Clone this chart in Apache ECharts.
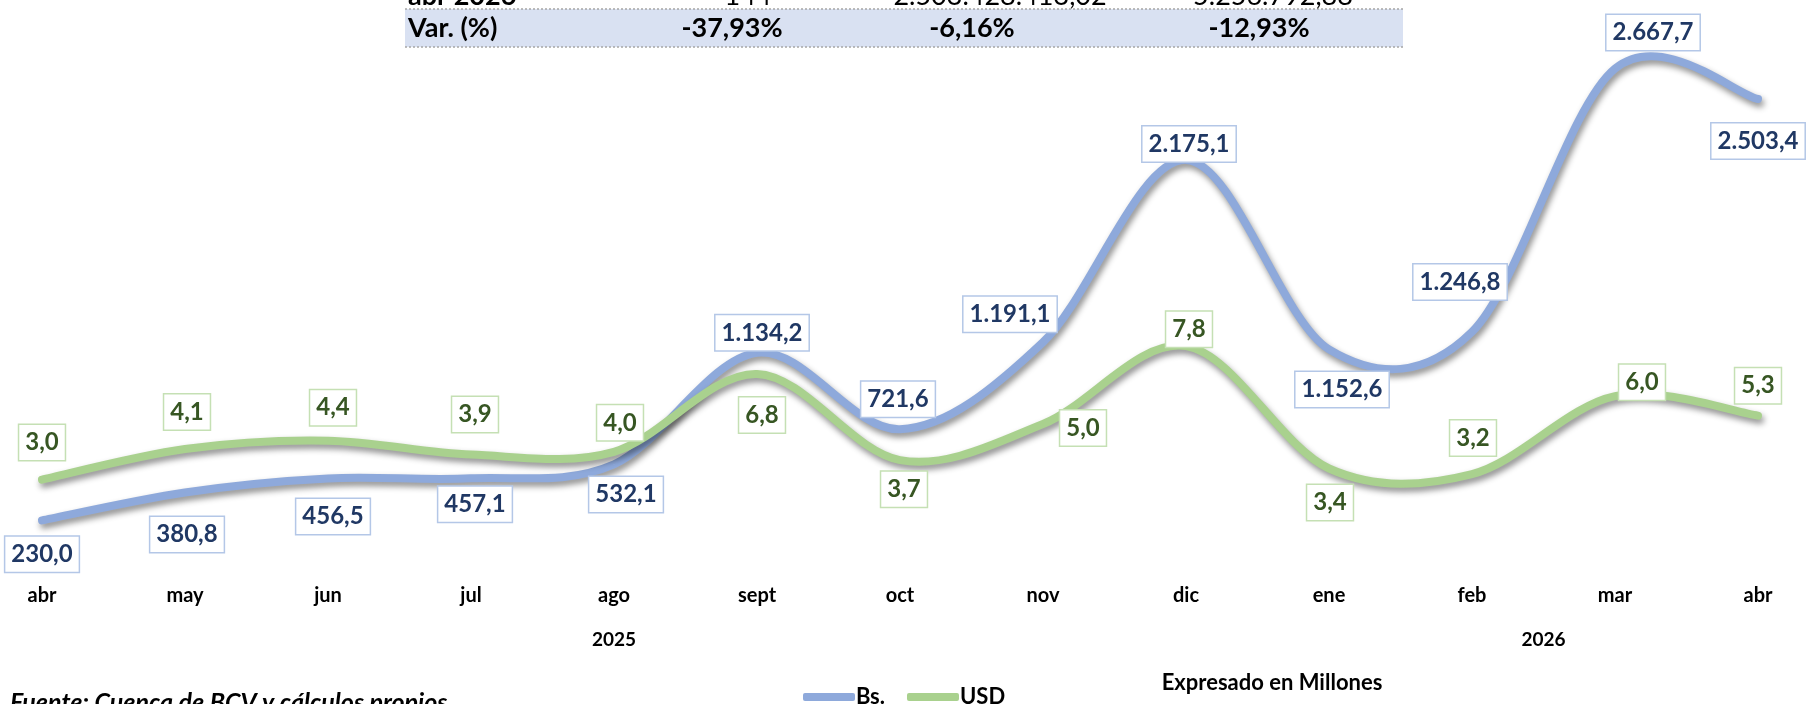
<!DOCTYPE html>
<html>
<head>
<meta charset="utf-8">
<script src="https://cdn.jsdelivr.net/npm/echarts@6/dist/echarts.min.js"></script>
<style>
  html, body { margin: 0; padding: 0; background: #fff; }
  #chart { width: 1814px; height: 704px; }
</style>
</head>
<body>
<div id="chart"></div>
<script>
// datos
var meses = ['abr', 'may', 'jun', 'jul', 'ago', 'sept', 'oct', 'nov', 'dic', 'ene', 'feb', 'mar', 'abr'];
var anios = ['2025', '2026'];
var bsValores = [230.0, 380.8, 456.5, 457.1, 532.1, 1134.2, 721.6, 1191.1, 2175.1, 1152.6, 1246.8, 2667.7, 2503.4];
var usdValores = [3.0, 4.1, 4.4, 3.9, 4.0, 6.8, 3.7, 5.0, 7.8, 3.4, 3.2, 6.0, 5.3];
var filaAnterior = ['abr 2026', '144', '2.503.428.413,02', '5.256.792,88'];
var filaVar = ['Var. (%)', '-37,93%', '-6,16%', '-12,93%'];

// desplazamiento de las etiquetas (px) respecto al punto
var bsOffset = [[0, 34], [2, 42], [5, 38], [4, 26], [12, 30], [5, -20], [-2, -30], [-33, -28], [3, -16], [13, 40], [-12, -50], [38, -36], [0, 42]];
var usdOffset = [[0, -37], [2, -37], [5, -33], [4, -40], [6, -29], [5, 41], [4, 29], [40, 4], [3, -17], [1, 34], [1, -36], [27, -14], [0, -30]];

function formato(v) {
    var p = v.toFixed(1).split('.');
    var ent = p[0].replace(/\B(?=(\d{3})+(?!\d))/g, '.');
    return ent + ',' + p[1];
}

var myChart = echarts.init(document.getElementById('chart'));
var fuente = 'Lato';
var azul = '#8EA9DB', verde = '#A9D18E';

var etiqueta = function (color, borde) {
    return {
        show: true,
        position: 'inside',
        formatter: function (p) { return formato(p.value); },
        color: color,
        fontFamily: fuente,
        fontWeight: 'bold',
        fontSize: 24,
        lineHeight: 26,
        backgroundColor: '#fff',
        borderColor: borde,
        borderWidth: 1.5,
        padding: [5, 6, 4, 6]
    };
};

// curva suavizada tipo Excel (Catmull-Rom) usando las escalas del grafico
var curva = function (valores, color) {
    return function (params, api) {
        if (params.dataIndex !== 0) return;
        var p = valores.map(function (v, i) { return api.coord([i, v]); });
        var n = p.length;
        var d = 'M' + p[0][0] + ' ' + p[0][1];
        for (var i = 0; i < n - 1; i++) {
            var a = p[Math.max(i - 1, 0)], b = p[i], c = p[i + 1], e = p[Math.min(i + 2, n - 1)];
            var c1 = [b[0] + (c[0] - a[0]) / 6, b[1] + (c[1] - a[1]) / 6];
            var c2 = [c[0] - (e[0] - b[0]) / 6, c[1] - (e[1] - b[1]) / 6];
            d += ' C' + c1[0] + ' ' + c1[1] + ' ' + c2[0] + ' ' + c2[1] + ' ' + c[0] + ' ' + c[1];
        }
        return {
            type: 'path',
            shape: { pathData: d },
            style: {
                fill: 'none', stroke: color, lineWidth: 8, lineCap: 'round', lineJoin: 'round',
                shadowColor: 'rgba(0,0,0,0.45)', shadowBlur: 6, shadowOffsetX: 2, shadowOffsetY: 4
            }
        };
    };
};

var celdas = [];
var colX = [408, 748, 1000, 1273];
filaAnterior.forEach(function (t, i) {
    celdas.push({
        type: 'text', x: colX[i], y: 10,
        style: { text: t, fontFamily: fuente, fontSize: 27, fontWeight: i == 0 ? 'bold' : 'normal', fill: '#000',
                 align: i == 0 ? 'left' : 'center', verticalAlign: 'bottom' }
    });
});
var colX2 = [408, 732, 972, 1259];
filaVar.forEach(function (t, i) {
    celdas.push({
        type: 'text', x: colX2[i], y: 28,
        style: { text: t, fontFamily: fuente, fontSize: 27, fontWeight: 'bold', fill: '#000',
                 align: i == 0 ? 'left' : 'center', verticalAlign: 'middle' }
    });
});

option = {
    animation: false,
    backgroundColor: '#fff',
    grid: { left: 42, right: 56, top: 7, bottom: 141 },
    legend: {
        data: [{ name: 'Bs.', itemStyle: { color: azul } }, { name: 'USD', itemStyle: { color: verde } }],
        left: 798,
        top: 681,
        icon: 'roundRect',
        itemWidth: 52,
        itemHeight: 8,
        itemGap: 22,
        textStyle: { fontFamily: fuente, fontSize: 22, fontWeight: 'bold', color: '#000', padding: [0, 0, 0, -4] }
    },
    xAxis: [
        {
            type: 'category',
            boundaryGap: false,
            data: meses,
            axisLine: { show: false },
            axisTick: { show: false },
            axisLabel: { margin: 23, fontFamily: fuente, fontSize: 20, fontWeight: 'bold', color: '#000', interval: 0 }
        },
        {
            type: 'value',
            position: 'bottom',
            min: 0,
            max: 12,
            interval: 0.5,
            axisLine: { show: false },
            axisTick: { show: false },
            splitLine: { show: false },
            axisLabel: {
                margin: 67,
                fontFamily: fuente, fontSize: 19, fontWeight: 'bold', color: '#000',
                formatter: function (v) {
                    if (v == 4) return anios[0];
                    if (v == 10.5) return anios[1];
                    return '';
                }
            }
        }
    ],
    yAxis: [
        { type: 'value', min: 0, max: 3000, show: false, splitLine: { show: false } },
        { type: 'value', min: 0, max: 20, show: false, splitLine: { show: false } }
    ],
    series: [
        {
            type: 'custom',
            yAxisIndex: 0,
            silent: true,
            renderItem: curva(bsValores, azul),
            data: bsValores.map(function (v, i) { return [i, v]; }),
            z: 2
        },
        {
            type: 'custom',
            yAxisIndex: 1,
            silent: true,
            renderItem: curva(usdValores, verde),
            data: usdValores.map(function (v, i) { return [i, v]; }),
            z: 3
        },
        {
            name: 'Bs.',
            type: 'line',
            yAxisIndex: 0,
            symbol: 'circle',
            symbolSize: 1,
            clip: false,
            itemStyle: { color: azul },
            lineStyle: { opacity: 0 },
            label: etiqueta('#203864', '#B4C7E7'),
            data: bsValores.map(function (v, i) { return { value: v, label: { offset: bsOffset[i] } }; }),
            z: 5
        },
        {
            name: 'USD',
            type: 'line',
            yAxisIndex: 1,
            symbol: 'circle',
            symbolSize: 1,
            clip: false,
            itemStyle: { color: verde },
            lineStyle: { opacity: 0 },
            label: etiqueta('#375623', '#C5E0B4'),
            data: usdValores.map(function (v, i) { return { value: v, label: { offset: usdOffset[i] } }; }),
            z: 6
        }
    ],
    graphic: [
        { type: 'rect', shape: { x: 405, y: 9, width: 998, height: 38 }, style: { fill: '#D9E1F2' }, z: -1 },
        { type: 'line', shape: { x1: 405, y1: 9, x2: 1403, y2: 9 }, style: { stroke: '#A6A6A6', lineWidth: 1.5, lineDash: [2, 2] } },
        { type: 'line', shape: { x1: 405, y1: 47, x2: 1403, y2: 47 }, style: { stroke: '#A6A6A6', lineWidth: 1.5, lineDash: [2, 2] } },
        { type: 'group', children: celdas },
        {
            type: 'text', x: 1272, y: 683,
            style: { text: 'Expresado en Millones', fontFamily: fuente, fontSize: 22, fontWeight: 'bold', fill: '#000', align: 'center', verticalAlign: 'middle' }
        },
        {
            type: 'text', x: 10, y: 690,
            style: { text: 'Fuente: Cuenca de BCV y cálculos propios', fontFamily: fuente, fontSize: 25, fontWeight: 'bold', fontStyle: 'italic', fill: '#000', align: 'left', verticalAlign: 'top' }
        }
    ]
};

myChart.setOption(option);
</script>
</body>
</html>
